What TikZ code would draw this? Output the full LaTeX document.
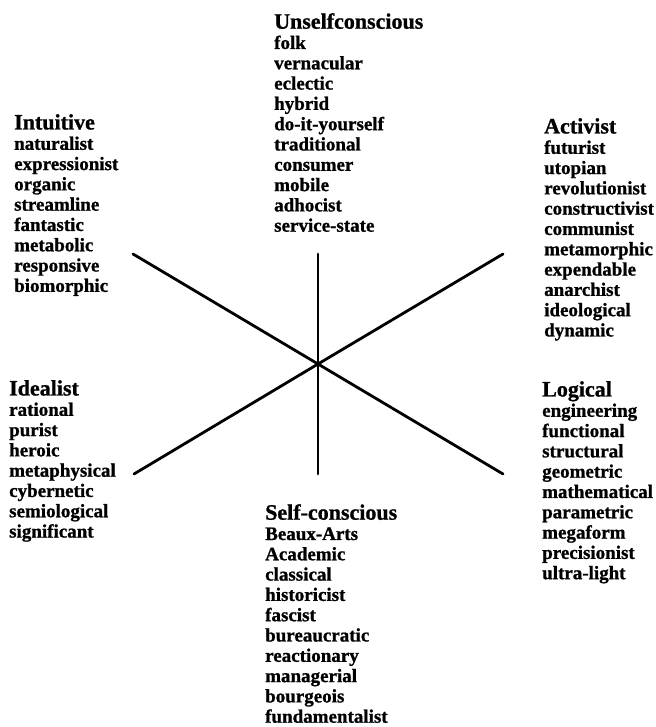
\documentclass[tikz,border=0pt]{standalone}
\usepackage{fontspec}
\setmainfont[BoldFeatures={FakeBold=1}]{Liberation Serif}
\usetikzlibrary{positioning}

\newcommand{\grouphead}[1]{{\fontsize{22}{20.4}\selectfont #1}}

\begin{document}
\begin{tikzpicture}[
  x=1pt, y=-1pt,
  words/.style={anchor=north west, inner sep=0pt, align=left,
                font=\fontsize{19}{20.3}\selectfont\bfseries},
  spoke/.style={line width=2.8pt, line cap=round}
]
\useasboundingbox (0,0) rectangle (655,727);

% the six word lists
\node[words] (unself) at (274,13)
  {\grouphead{Unselfconscious}\\folk\\vernacular\\eclectic\\hybrid\\
   do-it-yourself\\traditional\\consumer\\mobile\\adhocist\\service-state};
\node[words] (intuitive) at (14,114)
  {\grouphead{Intuitive}\\naturalist\\expressionist\\organic\\streamline\\
   fantastic\\metabolic\\responsive\\biomorphic};
\node[words] (activist) at (544,118)
  {\grouphead{Activist}\\futurist\\utopian\\revolutionist\\constructivist\\
   communist\\metamorphic\\expendable\\anarchist\\ideological\\dynamic};
\node[words] (idealist) at (9,380)
  {\grouphead{Idealist}\\rational\\purist\\heroic\\metaphysical\\
   cybernetic\\semiological\\significant};
\node[words] (selfcon) at (265,504)
  {\grouphead{Self-conscious}\\Beaux-Arts\\Academic\\classical\\historicist\\
   fascist\\bureaucratic\\reactionary\\managerial\\bourgeois\\fundamentalist};
\node[words] (logical) at (542,381)
  {\grouphead{Logical}\\engineering\\functional\\structural\\geometric\\
   mathematical\\parametric\\megaform\\precisionist\\ultra-light};

% the three crossing lines
\coordinate (hub) at (318,364);
\coordinate (top) at (318,254);
\coordinate (bottom) at (318,474);
\coordinate (upleft) at (133,254);
\coordinate (downright) at (503,474);
\coordinate (upright) at (503,254);
\coordinate (downleft) at (134,474);
\draw[spoke] (top) -- (hub) -- (bottom);
\draw[spoke] (upleft) -- (hub) -- (downright);
\draw[spoke] (upright) -- (hub) -- (downleft);
\end{tikzpicture}
\end{document}
